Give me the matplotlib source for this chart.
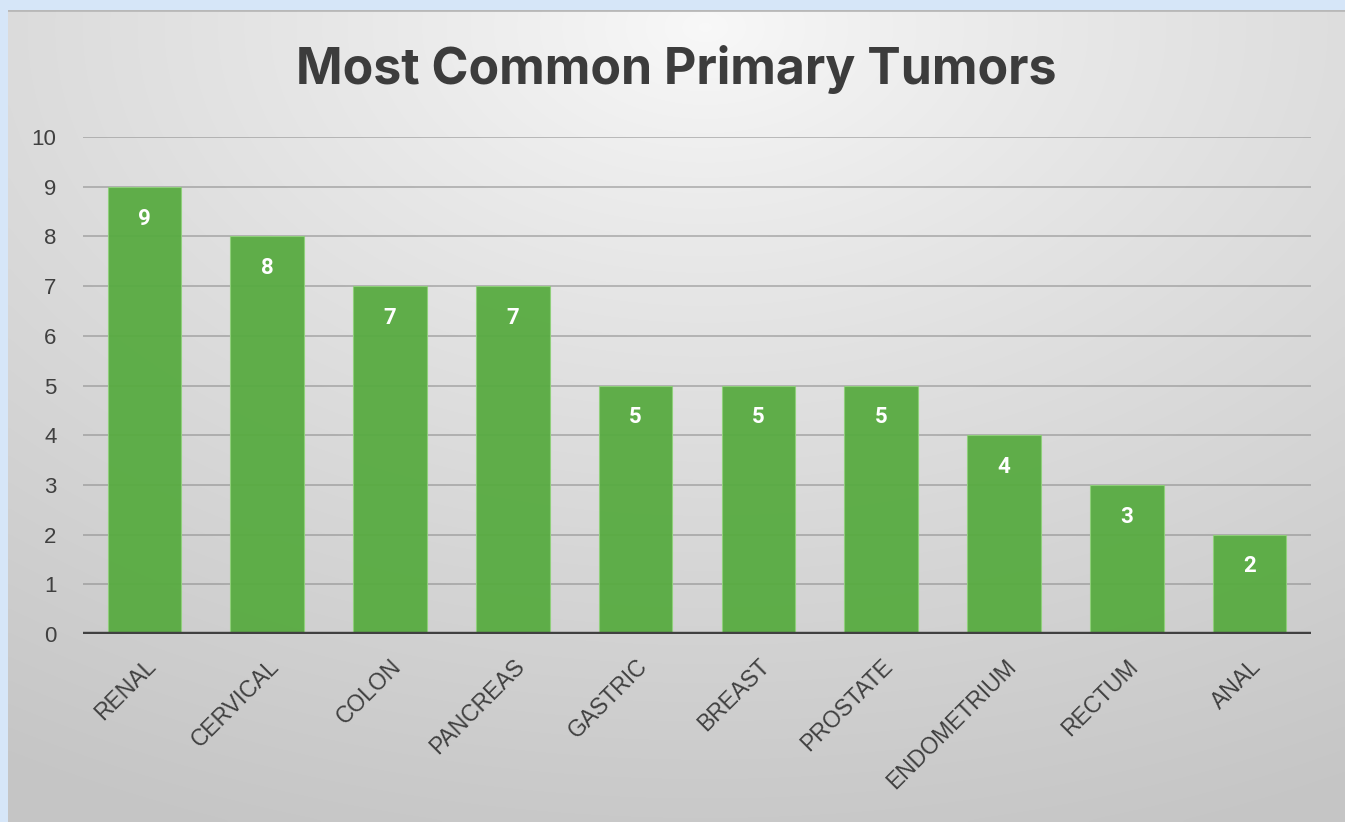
import numpy as np
import matplotlib
matplotlib.use("Agg")
import matplotlib.pyplot as plt

categories = ["RENAL", "CERVICAL", "COLON", "PANCREAS", "GASTRIC",
              "BREAST", "PROSTATE", "ENDOMETRIUM", "RECTUM", "ANAL"]
counts = [9, 8, 7, 7, 5, 5, 5, 4, 3, 2]
yticks = list(range(0, 11))
title = "Most Common Primary Tumors"

W, H, DPI = 1345, 822, 100
fig = plt.figure(figsize=(W / DPI, H / DPI), dpi=DPI)
fig.patch.set_facecolor("#d6e6f8")

# gradient panel
bg = fig.add_axes([8 / W, 0, 1 - 8 / W, 1 - 10 / H])
bg.set_axis_off()
ny, nx = 200, 330
yy, xx = np.mgrid[0:ny, 0:nx]
cx, cy = nx * 0.52, ny * 0.02
d = np.sqrt(((xx - cx) / nx) ** 2 + ((yy - cy) / ny) ** 2 * 0.9)
val = 0.975 - 0.2 * np.clip(d / 1.0, 0, 1) ** 0.85
img = np.dstack([val, val, val])
bg.imshow(img, aspect="auto", extent=[0, 1, 0, 1], interpolation="bicubic")
bg.axhline(1, color="#b8b8b8", lw=2)
bg.set_xlim(0, 1)
bg.set_ylim(0, 1)

ax = fig.add_axes([83 / W, (H - 634) / H, (1311 - 83) / W, (634 - 137) / H])
ax.set_facecolor("none")
x = np.arange(len(categories))
ax.set_xlim(-0.5, len(categories) - 0.5)
ax.set_ylim(0, 10)
for t in yticks[1:]:
    ax.axhline(t, color="#8c8c8c", lw=1.4, alpha=0.55, zorder=1)
bars = ax.bar(x, counts, width=0.6, color="#58ab41", alpha=0.95,
              edgecolor="#8fd07a", linewidth=0.8, zorder=2)
ax.axhline(0, color="#404040", lw=3.2, zorder=3)
for xi, v in zip(x, counts):
    ax.text(xi, v - 0.64, str(v), ha="center", va="center", color="white",
            fontsize=16, fontweight="bold", family="Roboto", zorder=4)

ax.set_yticks(yticks)
ax.set_yticklabels([str(t) for t in yticks], fontsize=16, color="#404040",
                   family="Liberation Sans")
ax.set_xticks(x)
ax.set_xticklabels(categories, rotation=45, ha="right", rotation_mode="anchor",
                   fontsize=16.5, color="#404040", family="Liberation Sans")
ax.tick_params(axis="both", length=0)
ax.tick_params(axis="y", pad=19)
ax.tick_params(axis="x", pad=15)
for s in ax.spines.values():
    s.set_visible(False)

fig.text(676 / W, 1 - 70 / H, title, ha="center", va="center",
         fontsize=36, fontweight="bold", family="Inter", color="#3c3c3c")

fig.savefig("out.png", dpi=DPI)
